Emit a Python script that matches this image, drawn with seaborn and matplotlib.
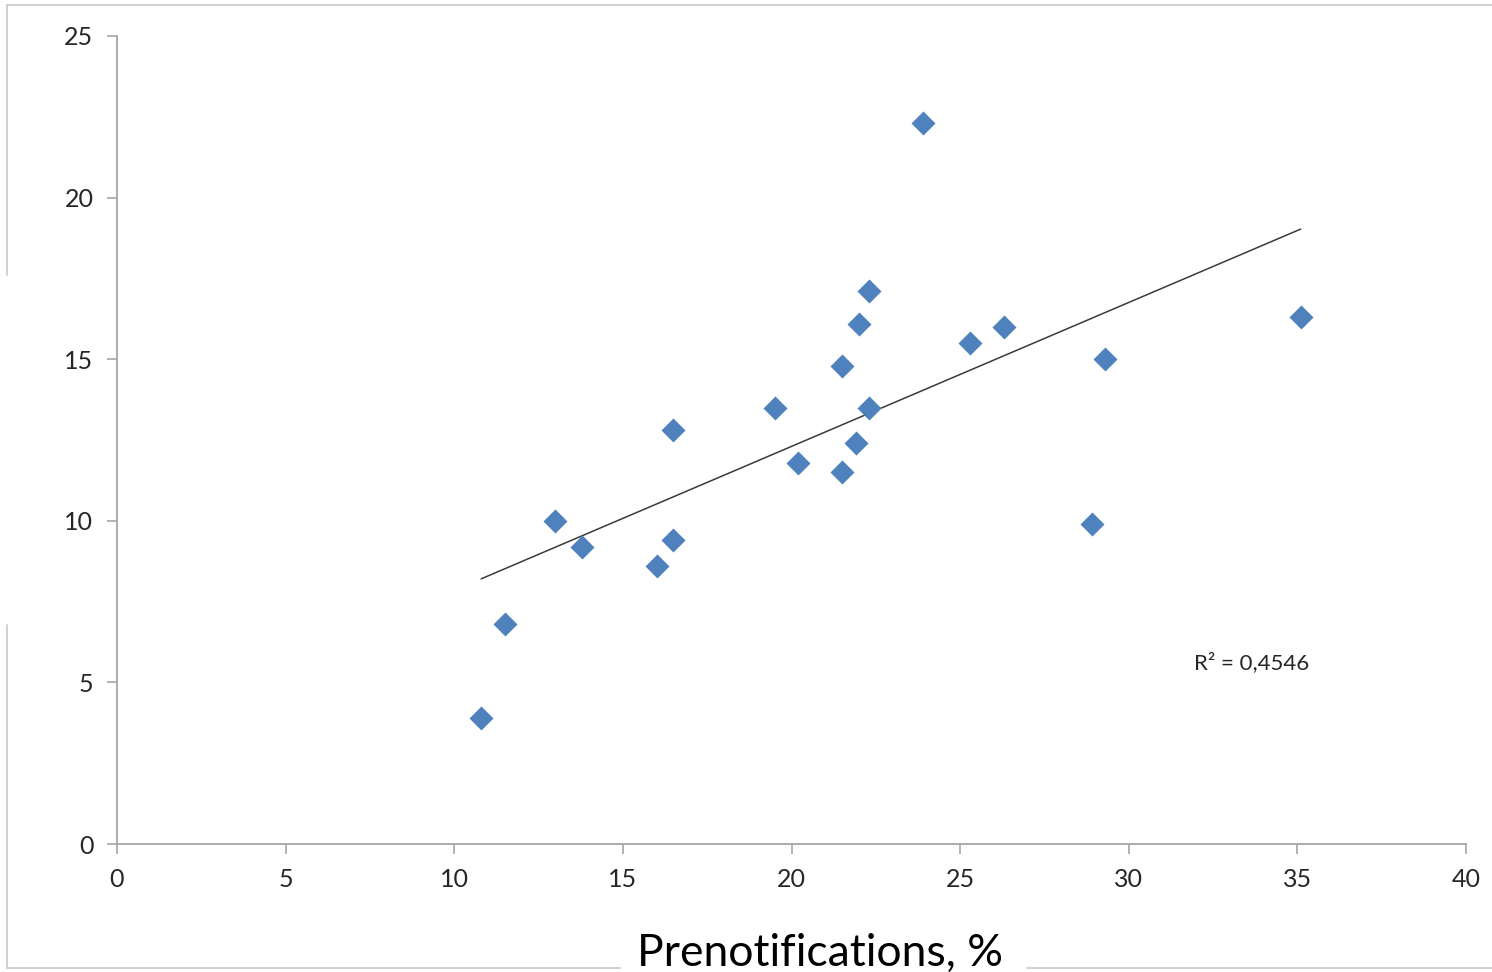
import numpy as np
import pandas as pd
import seaborn as sns
import matplotlib.pyplot as plt
from matplotlib.lines import Line2D

# values
prenotif = [10.8, 11.5, 13.0, 13.8, 16.0, 16.5, 16.5, 19.5, 20.2, 21.5, 21.5,
            21.9, 22.0, 22.3, 22.3, 23.9, 25.3, 26.3, 28.9, 29.3, 35.1]
response = [3.9, 6.8, 10.0, 9.2, 8.6, 12.8, 9.4, 13.5, 11.8, 11.5, 14.8,
            12.4, 16.1, 17.1, 13.5, 22.3, 15.5, 16.0, 9.9, 15.0, 16.3]
x_ticks = [0, 5, 10, 15, 20, 25, 30, 35, 40]
y_ticks = [0, 5, 10, 15, 20, 25]
r2_label = 'R² = 0,4546'
x_label = 'Prenotifications, %'

df = pd.DataFrame({'x': prenotif, 'y': response})

sns.set_style('white')
plt.rcParams['font.family'] = ['Lato', 'DejaVu Sans']

fig = plt.figure(figsize=(14.92, 9.72), dpi=100)
ax = fig.add_axes([117 / 1492, 1 - 844 / 972, (1466 - 117) / 1492, (844 - 36) / 972])

sns.scatterplot(data=df, x='x', y='y', marker='D', s=150, color='#4F81BD',
                edgecolor='#4F81BD', linewidth=0, ax=ax, zorder=3)
sns.regplot(data=df, x='x', y='y', scatter=False, ci=None, ax=ax,
            line_kws={'color': '#3a3a3a', 'lw': 1.1}, truncate=True)

ax.set_xlim(0, 40)
ax.set_ylim(0, 25)
ax.set_xticks(x_ticks)
ax.set_yticks(y_ticks)
ax.set_xlabel('')
ax.set_ylabel('')
for side in ['top', 'right']:
    ax.spines[side].set_visible(False)
for side in ['left', 'bottom']:
    ax.spines[side].set_color('#A6A6A6')
    ax.spines[side].set_linewidth(1.3)
ax.tick_params(axis='both', direction='out', length=7, width=1.2, color='#A6A6A6',
               labelsize=18, labelcolor='#262626', bottom=True, left=True)
ax.tick_params(axis='x', pad=10)
ax.tick_params(axis='y', pad=10)

ax.text(33.65, 5.6, r2_label, fontsize=16, color='#262626', ha='center', va='center')

fig.text(820 / 1492, 1 - 953 / 972, x_label, fontsize=32, color='#000000',
         ha='center', va='center')

# outer frame fragments
gc = '#C8C8C8'
fig.add_artist(Line2D([7 / 1492, 1], [1 - 5 / 972, 1 - 5 / 972], color=gc, lw=1.2))
fig.add_artist(Line2D([7 / 1492, 7 / 1492], [1 - 5 / 972, 1 - 275 / 972], color=gc, lw=1.2))
fig.add_artist(Line2D([7 / 1492, 7 / 1492], [1 - 625 / 972, 1 - 968 / 972], color=gc, lw=1.2))
fig.add_artist(Line2D([7 / 1492, 620 / 1492], [1 - 968 / 972, 1 - 968 / 972], color=gc, lw=1.2))
fig.add_artist(Line2D([1027 / 1492, 1], [1 - 968 / 972, 1 - 968 / 972], color=gc, lw=1.2))

fig.savefig('out.png', dpi=100)
